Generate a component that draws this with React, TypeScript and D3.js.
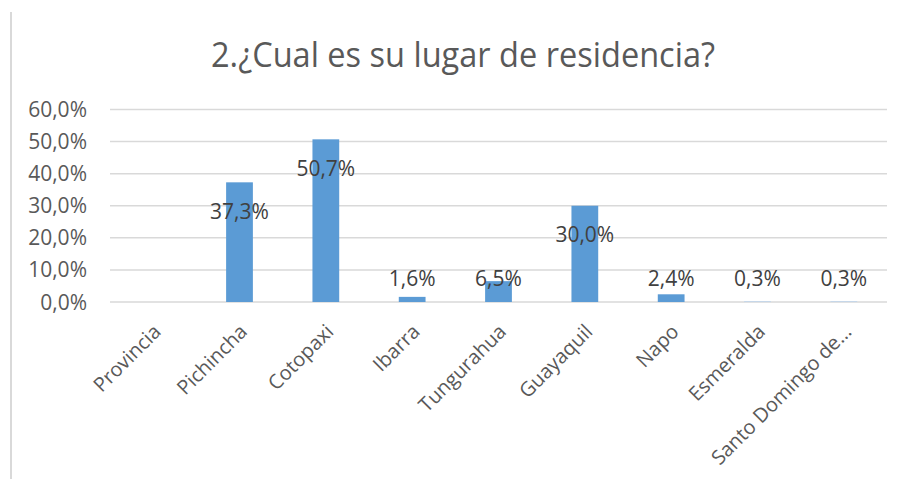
import React from "react";
import * as d3 from "d3";

const categories = ["Provincia", "Pichincha", "Cotopaxi", "Ibarra", "Tungurahua", "Guayaquil", "Napo", "Esmeralda", "Santo Domingo de…"];
const values = [0, 37.3, 50.7, 1.6, 6.5, 30.0, 2.4, 0.3, 0.3];
const yTicks = [0, 10, 20, 30, 40, 50, 60];
const title = "2.¿Cual es su lugar de residencia?";

const W = 901;
const H = 479;
const FONT = "'Open Sans', 'Liberation Sans', sans-serif";
const fmt = (v: number) => v.toFixed(1).replace(".", ",") + "%";

export default function App() {
  const x = d3.scaleBand<string>().domain(categories).range([110, 887]).paddingInner(0.69).paddingOuter(0.345);
  const y = d3.scaleLinear().domain([0, 60]).range([302, 109.5]);

  return (
    <svg width={W} height={H} style={{ position: "absolute", left: 0, top: 0, background: "#fff" }} fontFamily={FONT}>
      <rect x={0} y={0} width={W} height={H} fill="#fff" />
      <line x1={11} x2={11} y1={12} y2={H} stroke="#d9d9d9" strokeWidth={2} />
      <text x={463} y={67} textAnchor="middle" fontSize={34} fill="#595959" textLength={504} lengthAdjust="spacingAndGlyphs">
        {title}
      </text>
      {yTicks.map((t) => (
        <g key={t}>
          <line x1={110} x2={887} y1={y(t)} y2={y(t)} stroke="#d9d9d9" strokeWidth={1.5} />
          <text x={87} y={y(t)} dy="0.36em" textAnchor="end" fontSize={21} fill="#595959">
            {fmt(t)}
          </text>
        </g>
      ))}
      {categories.map((c, i) => {
        const v = values[i];
        const bx = x(c)!;
        const top = y(v);
        const cx = bx + x.bandwidth() / 2;
        return (
          <g key={c}>
            {v > 0 && (
              <rect x={bx} y={top} width={x.bandwidth()} height={Math.max(y(0) - top, 1)} fill={v < 1 ? "#c5d7ea" : "#5b9bd5"} />
            )}
            {v > 0 && (
              <text x={cx} y={Math.min(top + 29, y(0) - 24)} dy="0.36em" textAnchor="middle" fontSize={21} fill="#404040">
                {fmt(v)}
              </text>
            )}
            <text
              transform={`translate(${cx + 4},328) rotate(-45)`}
              dy="0.35em"
              textAnchor="end"
              fontSize={20}
              fill="#595959"
            >
              {c}
            </text>
          </g>
        );
      })}
    </svg>
  );
}
